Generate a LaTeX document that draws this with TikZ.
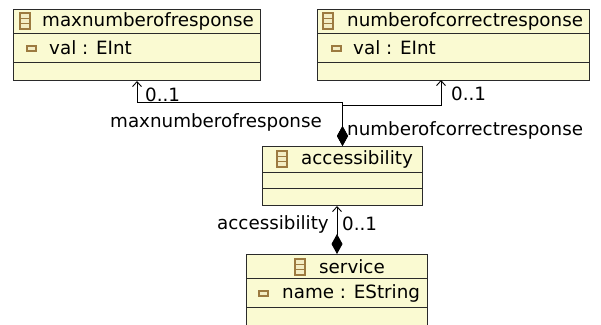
\documentclass[tikz,border=0pt]{standalone}
\usepackage{fontspec}
\setmainfont{DejaVu Sans}
\usetikzlibrary{arrows.meta}
\definecolor{boxfill}{HTML}{FAFAD2}
\definecolor{boxline}{HTML}{2A2A2A}
\definecolor{iconline}{HTML}{9C7A40}
\definecolor{iconfill}{HTML}{F3EDC4}
\begin{document}
\begin{tikzpicture}[x=1pt,y=-1pt,
  box/.style={draw=boxline, fill=boxfill, line width=1pt, rectangle, inner sep=0pt, anchor=north west},
  divider/.style={draw=boxline, line width=1pt},
  txt/.style={font=\fontsize{18.3}{21}\selectfont, inner sep=0pt, text=black},
  assoc/.style={line width=0.9pt, {Diamond[length=20pt,width=11pt]}-{Straight Barb[length=5pt,width=9pt]}},
  cls/.pic={\draw[iconline, fill=iconfill, line width=1.1pt] (0,0) rectangle (10,16);
            \draw[iconline, line width=1.1pt] (0,5.3) -- (10,5.3) (0,10.7) -- (10,10.7);},
  attr/.pic={\draw[iconline, fill=iconfill, line width=1.1pt] (0,0) rectangle (9,5);}
]
\useasboundingbox (0,0) rectangle (601,324);
\clip (0,0) rectangle (601,324);
\fill[white] (0,0) rectangle (601,324);

% maxnumberofresponse
\node[box, minimum width=247pt, minimum height=71pt] (max) at (13,9) {};
\path[divider] (13,33) -- (260,33) (13,62) -- (260,62);
\pic at (20,13) {cls};
\node[txt, anchor=west] (maxtitle) at (42,21) {maxnumberofresponse};
\pic at (27,46) {attr};
\node[txt, anchor=west] (maxval) at (49,48) {val : EInt};

% numberofcorrectresponse
\node[box, minimum width=272pt, minimum height=71pt] (corr) at (317,9) {};
\path[divider] (317,33) -- (589,33) (317,62) -- (589,62);
\pic at (323,13) {cls};
\node[txt, anchor=west] (corrtitle) at (347,21) {numberofcorrectresponse};
\pic at (332,46) {attr};
\node[txt, anchor=west] (corrval) at (353,48) {val : EInt};

% accessibility
\node[box, minimum width=160pt, minimum height=59pt] (acc) at (262,146) {};
\path[divider] (262,172) -- (422,172) (262,188) -- (422,188);
\pic at (277,151) {cls};
\node[txt, anchor=west] (acctitle) at (301,159) {accessibility};

% service
\node[box, minimum width=181pt, minimum height=80pt] (serv) at (246,254) {};
\path[divider] (246,278) -- (427,278) (246,307) -- (427,307);
\pic at (295,259) {cls};
\node[txt, anchor=west] (servtitle) at (319,267) {service};
\pic at (259,291) {attr};
\node[txt, anchor=west] (servname) at (282,293) {name : EString};

% connectors
\coordinate (corrin) at (441,80);
\draw[assoc] (acc.north) -- ++(0,-44) -| (max.south);
\draw[assoc] (acc.north) -- ++(0,-41) -| (corrin);
\draw[assoc] (serv.north) -- (serv.north |- acc.south);

% labels
\node[txt, anchor=west] (lmaxm) at (145,95) {0..1};
\node[txt] (lmaxn) at (216,122) {maxnumberofresponse};
\node[txt, anchor=west] (lcorrm) at (451,94) {0..1};
\node[txt, anchor=west] (lcorrn) at (347,130) {numberofcorrectresponse};
\node[txt, anchor=east] (laccn) at (329,224) {accessibility};
\node[txt, anchor=west] (laccm) at (342,224) {0..1};
\end{tikzpicture}
\end{document}
